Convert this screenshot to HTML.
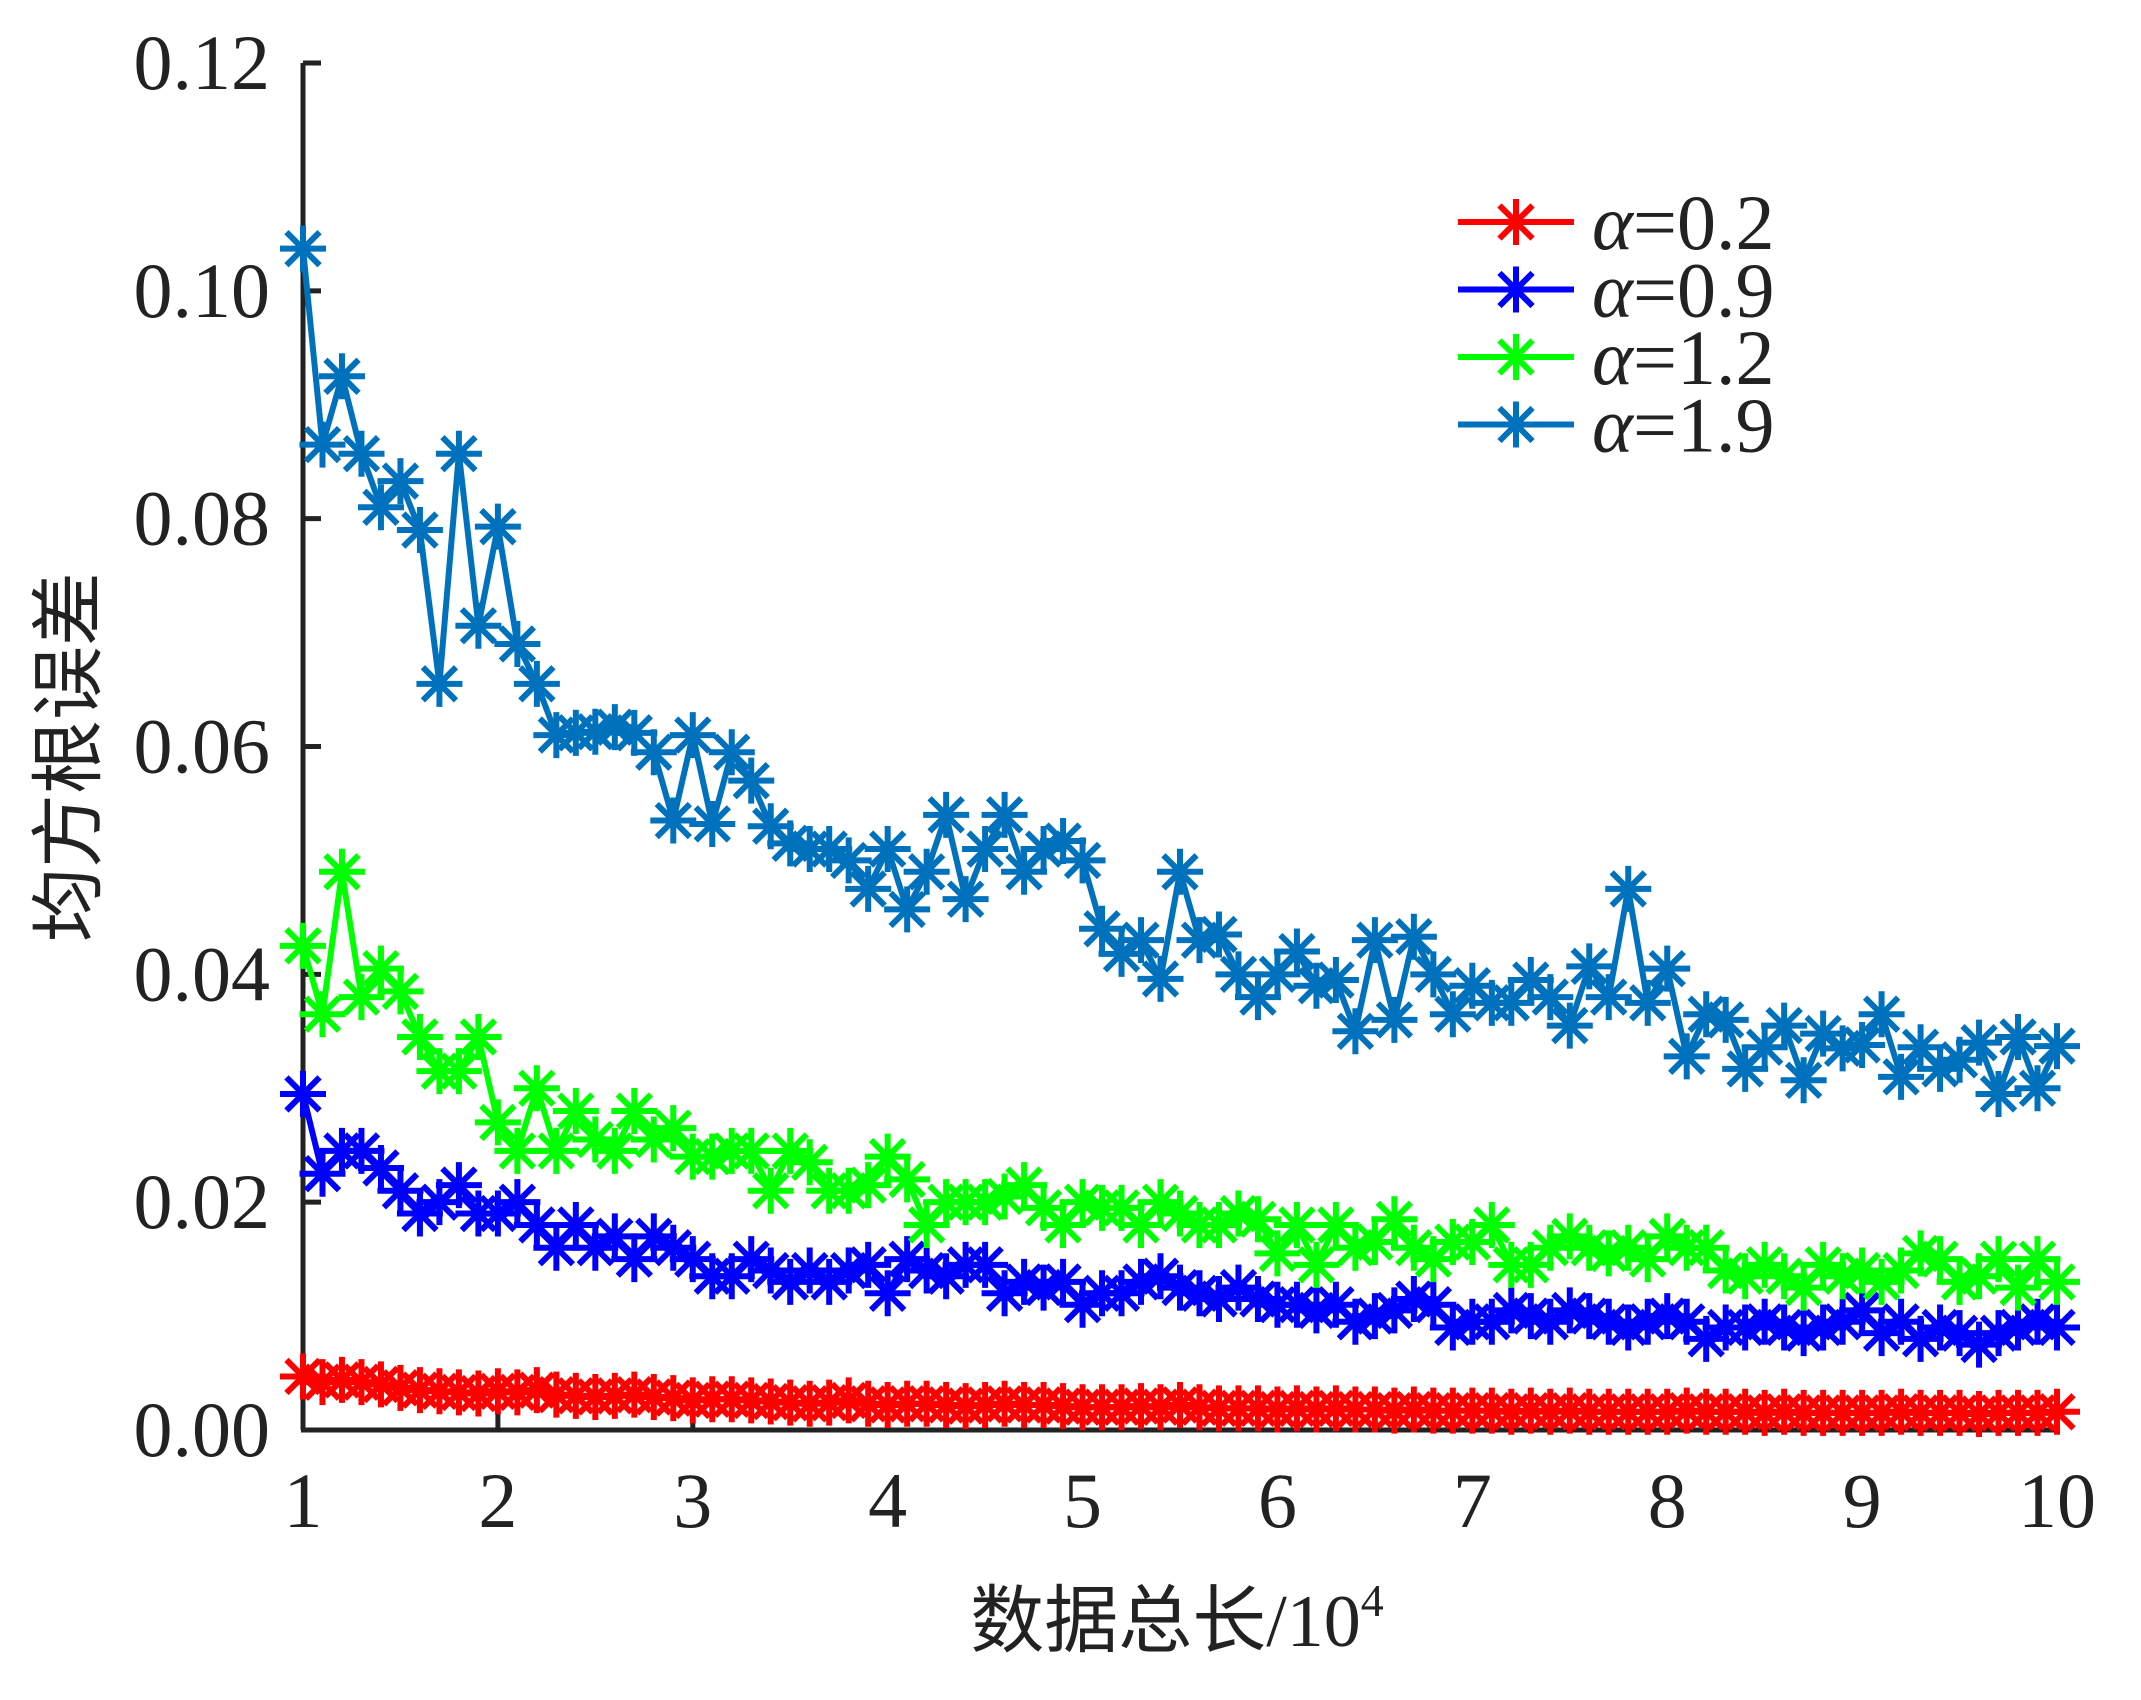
<!DOCTYPE html>
<html><head><meta charset="utf-8">
<style>
html,body{margin:0;padding:0;background:#fff;}
svg{display:block;}
text{font-family:"Liberation Serif","Noto Serif CJK SC",serif;fill:#222;}
</style></head>
<body>
<svg id="chart" width="2141" height="1700" viewBox="0 0 2141 1700" xmlns="http://www.w3.org/2000/svg">
<g id="axes"></g>
<g id="series"></g>
<g id="legend"></g>
<text x="0" y="0" transform="translate(94,757) rotate(-90)" text-anchor="middle" font-size="74" style="font-family:'Noto Sans CJK SC','Noto Serif CJK SC',sans-serif">均方根误差</text>
<text x="1177" y="1646" text-anchor="middle" font-size="74"><tspan style="font-family:'Noto Sans CJK SC','Noto Serif CJK SC',sans-serif">数据总长</tspan>/10<tspan dy="-30" font-size="46">4</tspan></text>
</svg>
<script>
const xTicks = [1,2,3,4,5,6,7,8,9,10];
const yTicks = [0,0.02,0.04,0.06,0.08,0.10,0.12];
const yTickLabels = ["0.00","0.02","0.04","0.06","0.08","0.10","0.12"];
const seriesNames = ["α=0.2","α=0.9","α=1.2","α=1.9"];
const xStart = 1, xStep = 0.1;
const a02 = [0.0047,0.0042,0.0044,0.0042,0.004,0.0037,0.0035,0.0034,0.0033,0.0032,
0.0034,0.0033,0.0035,0.0031,0.003,0.0029,0.003,0.0031,0.0029,0.0028,
0.0026,0.0027,0.0027,0.0026,0.0025,0.0024,0.0023,0.0024,0.0026,0.0023,
0.0022,0.0023,0.0023,0.0022,0.0021,0.0022,0.0023,0.0022,0.0022,0.0021,
0.002,0.002,0.002,0.0021,0.002,0.0022,0.002,0.0019,0.0019,0.0019,
0.0018,0.0019,0.0018,0.0019,0.0018,0.0018,0.0017,0.0018,0.0017,0.0017,
0.0017,0.0017,0.0016,0.0017,0.0016,0.0017,0.0016,0.0016,0.0016,0.0016,
0.0016,0.0017,0.0016,0.0016,0.0016,0.0015,0.0016,0.0015,0.0015,0.0015,
0.0015,0.0015,0.0016,0.0015,0.0015,0.0015,0.0014,0.0015,0.0015,0.0015,0.0016];
const a09 = [0.0295,0.0225,0.0245,0.0245,0.023,0.021,0.019,0.020,0.0215,0.019,
0.019,0.020,0.018,0.016,0.018,0.016,0.017,0.015,0.017,0.016,
0.015,0.0135,0.0135,0.015,0.014,0.013,0.014,0.013,0.014,0.0145,
0.012,0.015,0.014,0.0135,0.0145,0.0145,0.012,0.013,0.0125,0.013,
0.011,0.012,0.012,0.013,0.0135,0.0125,0.012,0.0115,0.0125,0.0115,
0.011,0.011,0.0105,0.011,0.0095,0.010,0.0105,0.0115,0.011,0.009,
0.0095,0.0095,0.0105,0.010,0.0095,0.0105,0.010,0.0095,0.009,0.0095,
0.010,0.0095,0.008,0.009,0.009,0.0095,0.009,0.0085,0.009,0.0095,
0.0105,0.0085,0.0095,0.008,0.009,0.0085,0.0075,0.0085,0.009,0.0095,0.009];
const a12 = [0.0425,0.0365,0.049,0.038,0.0405,0.0385,0.0345,0.0315,0.0315,0.0345,
0.027,0.0245,0.030,0.0245,0.028,0.0255,0.0245,0.028,0.0255,0.0265,
0.024,0.024,0.0245,0.0245,0.021,0.0245,0.0235,0.021,0.021,0.0215,
0.024,0.022,0.018,0.020,0.020,0.020,0.0205,0.0215,0.0195,0.018,
0.020,0.0195,0.0195,0.018,0.020,0.019,0.018,0.018,0.019,0.0185,
0.0155,0.018,0.0145,0.018,0.016,0.0165,0.0185,0.016,0.015,0.0165,
0.0165,0.018,0.0145,0.0145,0.016,0.017,0.016,0.0155,0.016,0.015,
0.017,0.016,0.016,0.014,0.0135,0.0145,0.0135,0.0125,0.0145,0.0135,
0.014,0.013,0.014,0.0155,0.015,0.013,0.0135,0.015,0.0125,0.015,0.013];
const a19 = [0.1037,0.0865,0.0925,0.0857,0.081,0.0833,0.079,0.0655,0.0857,0.0706,
0.0793,0.069,0.0655,0.061,0.0612,0.0613,0.0617,0.0612,0.0595,0.0535,
0.061,0.0532,0.0595,0.057,0.053,0.0515,0.051,0.051,0.050,0.0475,
0.051,0.0457,0.049,0.054,0.0466,0.051,0.054,0.049,0.051,0.0517,
0.050,0.044,0.0418,0.043,0.0396,0.049,0.043,0.0435,0.040,0.038,
0.040,0.042,0.039,0.0395,0.035,0.043,0.036,0.0433,0.040,0.0365,
0.039,0.0375,0.0375,0.0395,0.038,0.0355,0.0407,0.038,0.0475,0.0375,
0.0405,0.0328,0.0365,0.036,0.0317,0.0336,0.0355,0.0307,0.0348,0.0335,
0.0338,0.0365,0.031,0.0336,0.0317,0.0325,0.034,0.0295,0.0345,0.030,0.0337];
const colors = ["#ff0000","#0000ff","#00ff00","#0072bd"];
const allSeries = [a02,a09,a12,a19];

const NS="http://www.w3.org/2000/svg";
const X0=303,X1=2057,Y0=1430,Y1=63;
function sx(v){return X0+(v-1)/9*(X1-X0);}
function sy(v){return Y0-(v/0.12)*(Y0-Y1);}
function mk(tag,attrs,parent){const e=document.createElementNS(NS,tag);for(const k in attrs)e.setAttribute(k,attrs[k]);parent.appendChild(e);return e;}
const axes=document.getElementById('axes');
let l=mk('line',{x1:X0,y1:Y1,x2:X0,y2:Y0,stroke:'#222','stroke-width':5},axes);


l=mk('line',{x1:X0-2,y1:Y0,x2:X1,y2:Y0,stroke:'#222','stroke-width':5},axes);


yTicks.forEach((v,i)=>{
  const t=mk('line',{x1:X0,y1:sy(v),x2:X0+18,y2:sy(v),stroke:'#222','stroke-width':5},axes);
  
  
  const tx=mk('text',{x:270,y:sy(v)+26,'text-anchor':'end','font-size':78},axes);
  tx.textContent=yTickLabels[i];
  
  
});
xTicks.forEach(v=>{
  const t=mk('line',{x1:sx(v),y1:Y0,x2:sx(v),y2:Y0-18,stroke:'#222','stroke-width':5},axes);
  
  
  const tx=mk('text',{x:sx(v),y:1527,'text-anchor':'middle','font-size':78},axes);
  tx.textContent=String(v);
  
  
});
function star(g,x,y,c,r){
  const d=r*0.72;
  mk('path',{d:`M${x-r},${y}H${x+r}M${x},${y-r}V${y+r}M${x-d},${y-d}L${x+d},${y+d}M${x-d},${y+d}L${x+d},${y-d}`,stroke:c,'stroke-width':6,fill:'none'},g);
}
const sg=document.getElementById('series');
allSeries.forEach((data,si)=>{
  const g=mk('g',{},sg);
  
  
  const pts=data.map((v,i)=>sx(xStart+i*xStep).toFixed(1)+','+sy(v).toFixed(1)).join(' ');
  const pl=mk('polyline',{points:pts,fill:'none',stroke:colors[si],'stroke-width':6,'stroke-linejoin':'miter'},g);
  
  
  data.forEach((v,i)=>star(g,sx(xStart+i*xStep),sy(v),colors[si],23));
});
const lg=document.getElementById('legend');
seriesNames.forEach((n,i)=>{
  const y=222+i*67.5;
  const g=mk('g',{},lg);
  
  
  mk('line',{x1:1458,y1:y,x2:1574,y2:y,stroke:colors[i],'stroke-width':6},g);
  star(g,1516,y,colors[i],23);
  const t=mk('text',{x:1592,y:y+27,'font-size':78},g);
  t.innerHTML='<tspan font-style="italic">α</tspan>='+n.slice(2);
});
</script>
</body></html>
